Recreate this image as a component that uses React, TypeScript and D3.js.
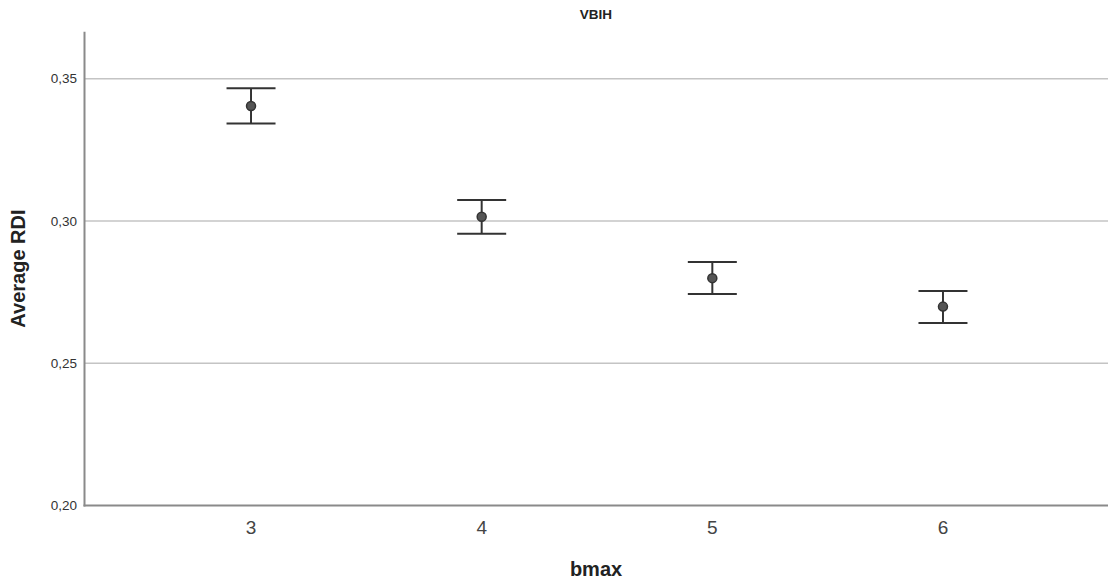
import React from "react";
import * as d3 from "d3";

// Mean RDI per bmax with 95% CI bounds
const categories = ["3", "4", "5", "6"];
const means = [0.3404, 0.3015, 0.2799, 0.2699];
const lower = [0.3342, 0.2955, 0.2743, 0.2641];
const upper = [0.3466, 0.3074, 0.2856, 0.2754];
const yTicks = [0.2, 0.25, 0.3, 0.35];

const W = 1108;
const H = 583;
const left = 84.5;
const top = 31.7;
const bottom = 505.5;

export default function App() {
  const x = d3
    .scalePoint<string>()
    .domain(categories)
    .range([left, 1109.5])
    .padding(0.722);
  const y = d3.scaleLinear().domain([0.2, 0.3665]).range([bottom, top]);
  const fmt = (v: number) => d3.format(".2f")(v).replace(".", ",");
  const capHalf = 24.5;
  const font = "'Liberation Sans', Arial, sans-serif";

  return (
    <div style={{ position: "absolute", left: 0, top: 0 }}>
      <svg width={W} height={H} style={{ display: "block", background: "#fff" }} fontFamily={font}>
        {/* gridlines */}
        {yTicks
          .filter((t) => t > 0.2)
          .map((t) => (
            <line key={t} x1={left} x2={W} y1={y(t)} y2={y(t)} stroke="#c4c4c4" strokeWidth={1.5} />
          ))}
        {/* axes */}
        <line x1={left} x2={left} y1={top} y2={bottom + 1} stroke="#8a8a8a" strokeWidth={2} />
        <line x1={left - 1} x2={W} y1={bottom} y2={bottom} stroke="#8a8a8a" strokeWidth={2} />
        {/* y tick labels */}
        {yTicks.map((t) => (
          <text key={t} x={77} y={y(t)} dy="0.35em" textAnchor="end" fontSize={13.5} fill="#333">
            {fmt(t)}
          </text>
        ))}
        {/* x tick labels */}
        {categories.map((c) => (
          <text key={c} x={x(c)} y={527} dy="0.35em" textAnchor="middle" fontSize={19} fill="#444">
            {c}
          </text>
        ))}
        {/* error bars */}
        {categories.map((c, i) => {
          const cx = x(c) as number;
          return (
            <g key={c} stroke="#333" strokeWidth={2}>
              <line x1={cx} x2={cx} y1={y(upper[i])} y2={y(lower[i])} />
              <line x1={cx - capHalf} x2={cx + capHalf} y1={y(upper[i])} y2={y(upper[i])} />
              <line x1={cx - capHalf} x2={cx + capHalf} y1={y(lower[i])} y2={y(lower[i])} />
              <circle cx={cx} cy={y(means[i])} r={4.5} fill="#555" strokeWidth={1.5} />
            </g>
          );
        })}
        {/* titles */}
        <text x={596} y={14} dy="0.35em" textAnchor="middle" fontSize={13.5} fontWeight="bold" fill="#222">
          VBIH
        </text>
        <text x={596} y={569} dy="0.35em" textAnchor="middle" fontSize={20} fontWeight="bold" fill="#222">
          bmax
        </text>
        <text
          transform={`translate(18,${(top + bottom) / 2}) rotate(-90)`}
          dy="0.35em"
          textAnchor="middle"
          fontSize={20}
          fontWeight="bold"
          fill="#222"
        >
          Average RDI
        </text>
      </svg>
    </div>
  );
}
